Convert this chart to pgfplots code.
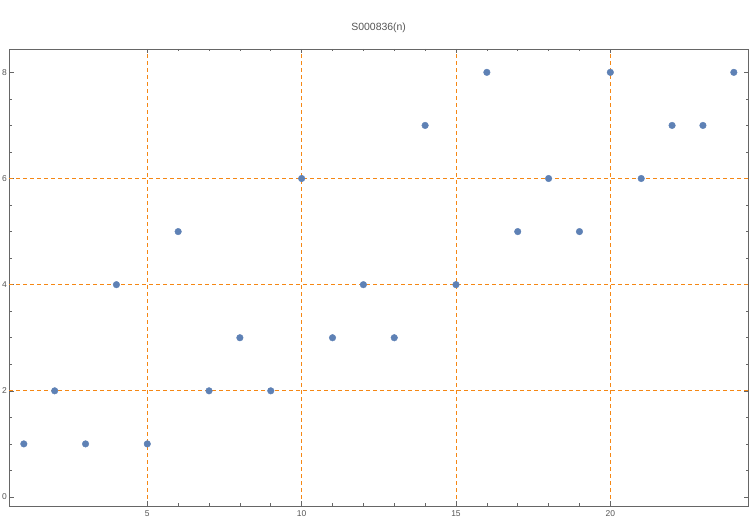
\documentclass[border=0pt]{standalone}
\usepackage{pgfplots}
\pgfplotsset{compat=1.18}
\usepackage{fontspec}
\setmainfont{Liberation Sans}

\definecolor{ptblue}{RGB}{94,129,181}
\definecolor{gridorange}{RGB}{245,135,20}
\definecolor{framegray}{RGB}{102,102,102}
\definecolor{labelgray}{RGB}{85,85,85}

\begin{document}
\begin{tikzpicture}[x=1bp,y=1bp]
\path[use as bounding box] (-9.3,-18) rectangle (740.7,506);
\begin{axis}[
    at={(0,0)}, anchor=south west,
    scale only axis,
    width=738.7bp, height=457bp,
    xmin=0.53, xmax=24.46,
    ymin=-0.17, ymax=8.44,
    xtick={5,10,15,20},
    ytick={0,2,4,6,8},
    minor x tick num=4,
    minor y tick num=3,
    tick align=inside,
    major tick length=4.5bp,
    minor tick length=2.5bp,
    axis line style={framegray, line width=0.8pt},
    tick style={framegray, line width=0.6pt},
    xmajorgrids,
    extra y ticks={2,4,6},
    extra y tick labels={},
    extra y tick style={ymajorgrids=true, major tick length=0pt},
    major grid style={gridorange, dash pattern=on 4bp off 3bp, line width=0.7pt},
    minor grid style={draw=none},
    tick label style={font=\fontsize{8.5}{10}\selectfont, text=labelgray},
    /pgf/number format/assume math mode=true,
    xticklabel style={yshift=-1bp},
    yticklabel style={xshift=1bp},
    title={S000836(n)},
    title style={font=\fontsize{10.5}{12}\selectfont, text=labelgray, yshift=7bp},
]
\addplot[only marks, mark=*, mark size=3.3bp, mark options={fill=ptblue, draw=ptblue}] coordinates {
(1,1)(2,2)(3,1)(4,4)(5,1)(6,5)(7,2)(8,3)(9,2)(10,6)(11,3)(12,4)
(13,3)(14,7)(15,4)(16,8)(17,5)(18,6)(19,5)(20,8)(21,6)(22,7)(23,7)(24,8)
};
\end{axis}
\end{tikzpicture}
\end{document}
